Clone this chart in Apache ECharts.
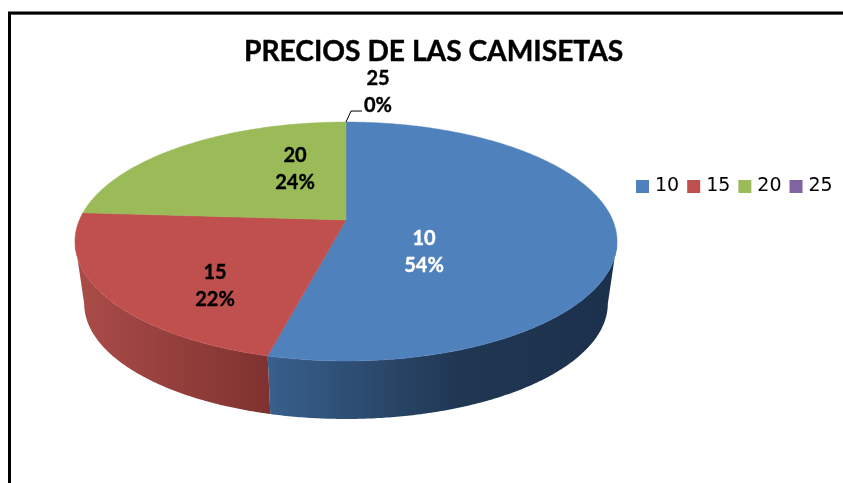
<!DOCTYPE html>
<html><head><meta charset="utf-8">
<style>html,body{margin:0;padding:0;background:#fff}#c{width:843px;height:483px}</style>
<script src="https://cdn.jsdelivr.net/npm/echarts@6/dist/echarts.min.js"></script>
</head><body><div id="c"></div>
<script>
const titleText = 'PRECIOS DE LAS CAMISETAS';
const categories = ['10', '15', '20', '25'];
const values = [53.9, 22.1, 24, 0];
const colors = ['#4f81bd', '#c0504d', '#9bbb59', '#8064a2'];

// Layout of the tilted pie (perspective projection of a circle)
const CX = 346, CY = 220, A = 266.6, B = 115.6, P = 0.18;
const DEPTH_SCALE = 0.966, DEPTH_CY = 282.8;
const WALL_FROM = 100.4, WALL_TO = 259.6;
const labelAnchors = [[424, 252, '#fff'], [215, 286, '#000'], [295, 169, '#000'], [378, 92, '#000']];
const wallGradients = [
  [[0, '#38608c'], [0.55, '#203753'], [1, '#1b304b']],
  [[0, '#ab4d49'], [1, '#7e3230']]
];

const total = values.reduce((a, b) => a + b, 0);
const RAD = Math.PI / 180;

function project(deg) {
  const X = Math.sin(deg * RAD), Y = -Math.cos(deg * RAD), w = 1 - P * Y;
  return [CX + A * X / w, CY + B * Y / w];
}
function lower(pt) {
  return [CX + DEPTH_SCALE * (pt[0] - CX), DEPTH_CY + DEPTH_SCALE * (pt[1] - CY)];
}
function arc(from, to) {
  const pts = [], n = Math.max(1, Math.ceil((to - from) * 2));
  for (let i = 0; i <= n; i++) pts.push(project(from + (to - from) * i / n));
  return pts;
}

function makeRender(index) {
  return function (params, api) {
    const value = api.value(0);
    const before = values.slice(0, index).reduce((a, b) => a + b, 0);
    const start = before / total * 360, end = (before + value) / total * 360;
    const children = [];
    const color = colors[index];
    const wa = Math.max(start, WALL_FROM), wb = Math.min(end, WALL_TO);
    if (wb > wa) {
      const top = arc(wa, wb);
      const bottom = top.map(lower).reverse();
      children.push({
        type: 'polygon',
        shape: { points: top.concat(bottom) },
        style: {
          fill: new echarts.graphic.LinearGradient(0, 0, 1, 0,
            wallGradients[index].map(s => ({ offset: s[0], color: s[1] })))
        }
      });
    }
    if (value > 0) {
      children.push({
        type: 'polygon',
        shape: { points: [[CX, CY]].concat(arc(start, end)) },
        style: { fill: color, stroke: color, lineWidth: 0.5 }
      });
    } else {
      const p = project(start);
      children.push({
        type: 'polyline',
        shape: { points: [p, [p[0] + 5, p[1] - 11], [p[0] + 16, p[1] - 11]] },
        style: { stroke: '#000', lineWidth: 1, fill: null }
      });
    }
    const a = labelAnchors[index];
    children.push({
      type: 'text', z2: 50,
      style: {
        x: a[0], y: a[1],
        text: categories[index] + '\n' + Math.round(value / total * 100) + '%',
        fill: a[2], align: 'center', verticalAlign: 'middle',
        font: 'bold 20px Lato', lineHeight: 27,
        stroke: a[2], lineWidth: 0.4
      }
    });
    return { type: 'group', children };
  };
}

const chart = echarts.init(document.getElementById('c'), null, { renderer: 'canvas' });
chart.setOption({
  animation: false,
  backgroundColor: '#fff',
  title: {
    text: titleText, left: 244, top: 37, padding: 0,
    textStyle: { fontFamily: 'Lato', fontWeight: 'bold', fontSize: 28.2, color: '#000', lineHeight: 30, textBorderColor: '#000', textBorderWidth: 0.4 }
  },
  legend: {
    left: 636, top: 177, padding: 0, itemWidth: 13, itemHeight: 13, itemGap: 8,
    icon: 'rect', selectedMode: false,
    data: categories,
    textStyle: { fontFamily: 'DejaVu Sans', fontSize: 19, color: '#000', padding: [0, 0, 0, 1] }
  },
  graphic: [
    { type: 'rect', silent: true, shape: { x: 10.5, y: 14.5, width: 1000, height: 1000 }, style: { fill: null, stroke: '#aaa', lineWidth: 1 } },
    { type: 'rect', silent: true, shape: { x: 9.5, y: 13, width: 1000, height: 1000 }, style: { fill: null, stroke: '#000', lineWidth: 3 } }
  ],
  series: categories.map((name, i) => ({
    type: 'custom', name, coordinateSystem: 'none',
    itemStyle: { color: colors[i] },
    renderItem: makeRender(i),
    data: [[values[i]]]
  }))
});
</script></body></html>
